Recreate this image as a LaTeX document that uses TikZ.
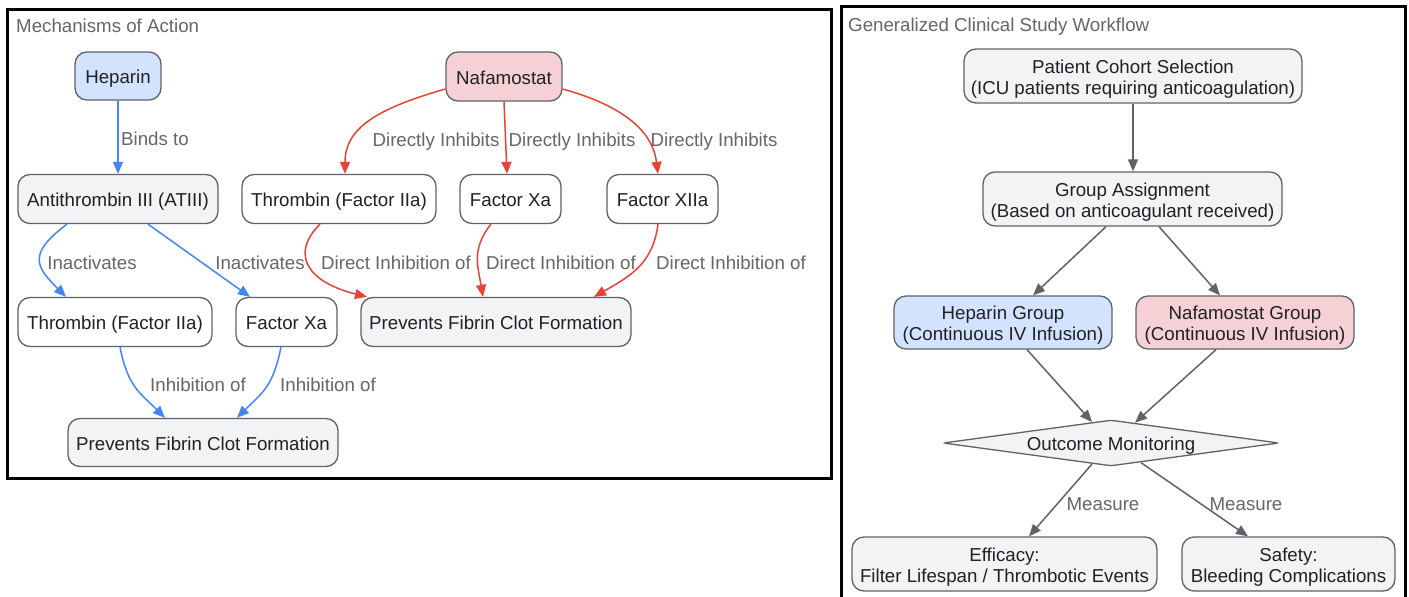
\documentclass[tikz,border=0pt]{standalone}
\usepackage{fontspec}
\setmainfont{Liberation Sans}
\usetikzlibrary{arrows.meta,shapes.geometric}
\definecolor{bluefill}{HTML}{D3E3FD}
\definecolor{pinkfill}{HTML}{F5D0D4}
\definecolor{grayfill}{HTML}{F1F3F4}
\definecolor{nodeborder}{HTML}{5F6368}
\definecolor{nodetext}{HTML}{202124}
\definecolor{labelgray}{HTML}{666666}
\definecolor{edgeblue}{HTML}{4285F4}
\definecolor{edgered}{HTML}{EA4335}
\definecolor{edgegray}{HTML}{5F6368}
\newcommand{\dgfont}{\fontsize{18.7}{21}\selectfont}
\newcommand{\tlstrut}{\rule{0pt}{19.6pt}}
\tikzset{
  box/.style={draw=nodeborder, line width=1.3pt, rounded corners=12pt, fill=white,
    text=nodetext, font=\dgfont, inner sep=0pt, align=center},
  oneline/.style={text height=15.4pt, text depth=0pt},
  lbl/.style={text=labelgray, font=\dgfont, inner sep=0pt, text height=15.4pt, text depth=0pt},
  ttl/.style={text=labelgray, font=\dgfont, inner sep=0pt, text height=15.4pt, text depth=0pt, anchor=west},
  tip/.style={-{Triangle[length=12pt,width=10pt]}},
  bluearrow/.style={draw=edgeblue, line width=1.5pt, tip},
  redarrow/.style={draw=edgered, line width=1.5pt, tip},
  grayarrow/.style={draw=edgegray, line width=1.5pt, tip},
  frame/.style={draw=black, line width=3pt}
}
\begin{document}
\begin{tikzpicture}[x=1pt,y=-1pt]
\useasboundingbox (0,0) rectangle (1409,597);
\clip (0,0) rectangle (1409,597);
\fill[white] (0,0) rectangle (1409,597);

% ---------- Left panel ----------
\draw[frame] (7,9) rectangle (831,478);
\node[ttl] (t1) at (16,25) {Mechanisms of Action};

\node[box, oneline, fill=bluefill, minimum width=86pt, minimum height=48pt] (hep) at (118,76) {Heparin};
\node[box, oneline, fill=pinkfill, minimum width=116pt, minimum height=49pt] (naf) at (504,76.5) {Nafamostat};
\node[box, oneline, fill=grayfill, minimum width=200pt, minimum height=49pt] (atiii) at (118,199) {Antithrombin III (ATIII)};
\node[box, oneline, minimum width=194pt, minimum height=49pt] (thr1) at (339,199) {Thrombin (Factor IIa)};
\node[box, oneline, minimum width=101pt, minimum height=49pt] (xa1) at (510.5,199) {Factor Xa};
\node[box, oneline, minimum width=111pt, minimum height=49pt] (xiia) at (662.5,199) {Factor XIIa};
\node[box, oneline, minimum width=194pt, minimum height=49pt] (thr2) at (115,322) {Thrombin (Factor IIa)};
\node[box, oneline, minimum width=101pt, minimum height=49pt] (xa2) at (286.5,322) {Factor Xa};
\node[box, oneline, fill=grayfill, minimum width=270pt, minimum height=49pt] (prev1) at (496,322) {Prevents Fibrin Clot Formation};
\node[box, oneline, fill=grayfill, minimum width=270pt, minimum height=48pt] (prev2) at (203,442.5) {Prevents Fibrin Clot Formation};

% blue edges
\draw[bluearrow] (hep.south) -- (atiii.north);
\draw[bluearrow] ([xshift=-51pt]atiii.south) .. controls +(-40,30) and +(-30,-30) .. ([xshift=-49pt]thr2.north);
\draw[bluearrow] ([xshift=30pt]atiii.south) -- ([xshift=-36.5pt]xa2.north);
\draw[bluearrow] ([xshift=5pt]thr2.south) .. controls +(8,40) and +(-25,-25) .. ([xshift=-38pt]prev2.north);
\draw[bluearrow] ([xshift=-5.5pt]xa2.south) .. controls +(-8,40) and +(25,-25) .. ([xshift=34pt]prev2.north);

% red edges
\draw[redarrow] ([yshift=-12.5pt]naf.west) .. controls +(-70,20) and +(0,-45) .. ([xshift=6pt]thr1.north);
\draw[redarrow] (naf.south) -- ([xshift=-3.5pt]xa1.north);
\draw[redarrow] ([yshift=-12.5pt]naf.east) .. controls +(65,18) and +(-5,-40) .. ([xshift=-4.5pt]xiia.north);
\draw[redarrow] ([xshift=-19pt]thr1.south) .. controls +(-30,30) and +(-60,-15) .. ([xshift=-129pt]prev1.north);
\draw[redarrow] ([xshift=-19.5pt]xa1.south) .. controls +(-20,25) and +(-5,-30) .. ([xshift=-13pt]prev1.north);
\draw[redarrow] ([xshift=-4.5pt]xiia.south) .. controls +(-5,40) and +(35,-20) .. ([xshift=98pt]prev1.north);

% labels
\node[lbl] (l1) at (155,138) {Binds to};
\node[lbl] (l2) at (92,262) {Inactivates};
\node[lbl] (l3) at (260,262) {Inactivates};
\node[lbl] (l4) at (198,384) {Inhibition of};
\node[lbl] (l5) at (328,384) {Inhibition of};
\node[lbl] (l6) at (436,139) {Directly Inhibits};
\node[lbl] (l7) at (572,139) {Directly Inhibits};
\node[lbl] (l8) at (714,139) {Directly Inhibits};
\node[lbl] (l9) at (396,262) {Direct Inhibition of};
\node[lbl] (l10) at (561,262) {Direct Inhibition of};
\node[lbl] (l11) at (731,262) {Direct Inhibition of};

% ---------- Right panel ----------
\draw[frame] (841,6) rectangle (1405,620);
\node[ttl] (t2) at (848,24) {Generalized Clinical Study Workflow};

\node[box, fill=grayfill, minimum width=338pt, minimum height=54pt] (pcs) at (1133,76) {\tlstrut Patient Cohort Selection\\(ICU patients requiring anticoagulation)};
\node[box, fill=grayfill, minimum width=299pt, minimum height=54pt] (ga) at (1132.5,199) {\tlstrut Group Assignment\\(Based on anticoagulant received)};
\node[box, fill=bluefill, minimum width=218pt, minimum height=53pt] (hg) at (1003,322.5) {\tlstrut Heparin Group\\(Continuous IV Infusion)};
\node[box, fill=pinkfill, minimum width=218pt, minimum height=53pt] (ng) at (1245,322.5) {\tlstrut Nafamostat Group\\(Continuous IV Infusion)};
\node[diamond, aspect=7.3, draw=nodeborder, line width=1.3pt, fill=grayfill, rounded corners=3pt,
      text=nodetext, font=\dgfont, inner sep=0pt, oneline, minimum width=336pt, minimum height=46pt] (om) at (1111,443) {Outcome Monitoring};
\node[box, fill=grayfill, minimum width=305pt, minimum height=54pt] (eff) at (1004.5,564) {\tlstrut Efficacy:\\Filter Lifespan / Thrombotic Events};
\node[box, fill=grayfill, minimum width=213pt, minimum height=54pt] (saf) at (1288.5,564) {\tlstrut Safety:\\Bleeding Complications};

\draw[grayarrow] (pcs.south) -- (pcs.south |- ga.north);
\draw[grayarrow] ([xshift=-26.5pt]ga.south) -- ([xshift=30pt]hg.north);
\draw[grayarrow] ([xshift=26.5pt]ga.south) -- ([xshift=-25pt]ng.north);
\draw[grayarrow] ([xshift=24pt]hg.south) -- ([xshift=-19pt,yshift=-2.6pt]om.north);
\draw[grayarrow] ([xshift=-29pt]ng.south) -- ([xshift=24pt,yshift=-3.3pt]om.north);
\draw[grayarrow] ([xshift=-19pt,yshift=2.6pt]om.south) -- ([xshift=24.5pt]eff.north);
\draw[grayarrow] ([xshift=30pt,yshift=4pt]om.south) -- ([xshift=-40.5pt]saf.north);

\node[lbl] (m1) at (1103,503) {Measure};
\node[lbl] (m2) at (1246,503) {Measure};
\end{tikzpicture}
\end{document}
